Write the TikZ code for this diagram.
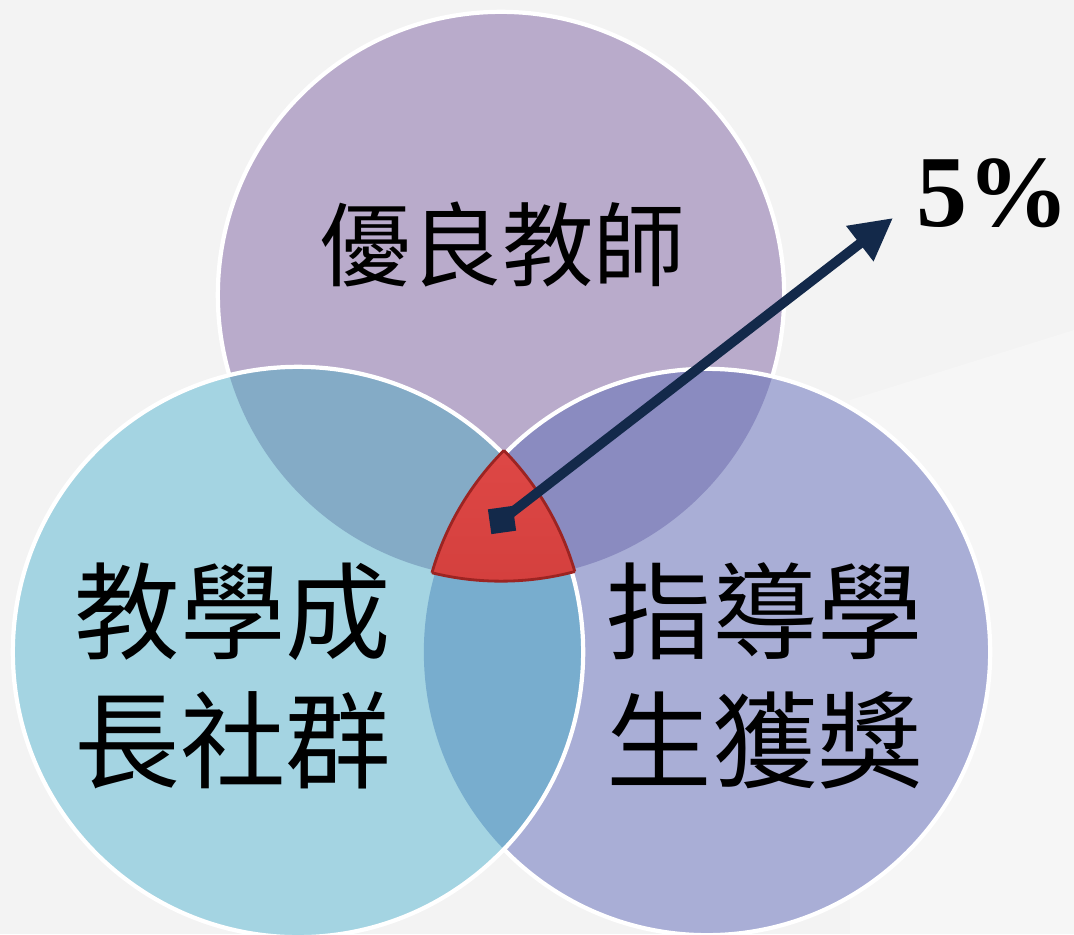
\documentclass[tikz,border=0pt]{standalone}
\usepackage{fontspec}
\setmainfont{Liberation Serif}
\newfontfamily\cjk{Noto Sans CJK TC}
\usetikzlibrary{arrows.meta}
\definecolor{bgc}{HTML}{F3F3F3}
\definecolor{bgl}{HTML}{F6F6F6}
\definecolor{topc}{HTML}{B9ABCB}
\definecolor{leftc}{HTML}{A4D4E2}
\definecolor{rightc}{HTML}{A9AED6}
\definecolor{tlc}{HTML}{84ABC6}
\definecolor{trc}{HTML}{8A8BC0}
\definecolor{lrc}{HTML}{78ADCE}
\definecolor{redt}{HTML}{E44C4A}
\definecolor{redb}{HTML}{BA2C2A}
\definecolor{redo}{HTML}{9C2422}
\definecolor{navy}{HTML}{13294A}
\tikzset{
  ring/.style={draw=white, line width=1.2pt},
  cjklabel/.style={font=\cjk\fontsize{30pt}{36.5pt}\selectfont, align=center, text=black, inner sep=0pt},
  toplabel/.style={font=\cjk\fontsize{26pt}{30pt}\selectfont, text=black, inner sep=0pt},
  pctlabel/.style={font=\bfseries\fontsize{29pt}{32pt}\selectfont, text=black, inner sep=0pt},
  pointer/.style={draw=navy, line width=2.8pt, -{Triangle[length=0.42cm, width=0.42cm]}},
  marker/.style={fill=navy, minimum size=0.25cm, inner sep=0pt, rotate=8}
}
\begin{document}
\begin{tikzpicture}[x=0.01cm,y=-0.01cm]
\useasboundingbox (0,0) rectangle (1074,934);
\fill[bgc] (0,0) rectangle (1074,934);
\fill[bgl] (850,400) -- (1074,330) -- (1074,934) -- (850,934) -- cycle;
% top circle
\fill[topc] (501,295) circle [radius=2.83cm];
\draw[ring] (501,295) circle [radius=2.83cm];
% right circle
\fill[rightc] (707,652) circle [radius=2.83cm];
\begin{scope}
  \clip (501,295) circle [radius=2.83cm];
  \fill[trc] (707,652) circle [radius=2.83cm];
\end{scope}
\draw[ring] (707,652) circle [radius=2.83cm];
% left circle
\fill[leftc] (298,652) circle [radius=2.85cm];
\begin{scope}
  \clip (298,652) circle [radius=2.85cm];
  \fill[tlc] (501,295) circle [radius=2.83cm];
  \fill[lrc] (707,652) circle [radius=2.83cm];
\end{scope}
\draw[ring] (298,652) circle [radius=2.85cm];
% centre region
\begin{scope}
  \clip (501,295) circle [radius=2.86cm];
  \clip (298,652) circle [radius=2.88cm];
  \shade[top color=redt, bottom color=redb] (707,652) circle [radius=2.86cm];
\end{scope}
\begin{scope}
  \clip (501,295) circle [radius=2.86cm];
  \clip (298,652) circle [radius=2.88cm];
  \draw[redo, line width=0.8pt] (707,652) circle [radius=2.86cm];
\end{scope}
\begin{scope}
  \clip (707,652) circle [radius=2.86cm];
  \clip (298,652) circle [radius=2.88cm];
  \draw[redo, line width=0.8pt] (501,295) circle [radius=2.86cm];
\end{scope}
\begin{scope}
  \clip (707,652) circle [radius=2.86cm];
  \clip (501,295) circle [radius=2.86cm];
  \draw[redo, line width=0.8pt] (298,652) circle [radius=2.88cm];
\end{scope}
% labels
\node[toplabel] (t1) at (502,245) {優良教師};
\node[cjklabel] (t2) at (233,676) {教學成\\長社群};
\node[cjklabel] (t3) at (765,676) {指導學\\生獲獎};
\node[pctlabel] (pct) at (993,193) {5\%};
% pointer
\coordinate (src) at (502,520);
\coordinate (tip) at (893,218);
\draw[pointer] (src) -- (tip);
\node[marker] (sq) at (src) {};
\end{tikzpicture}
\end{document}
